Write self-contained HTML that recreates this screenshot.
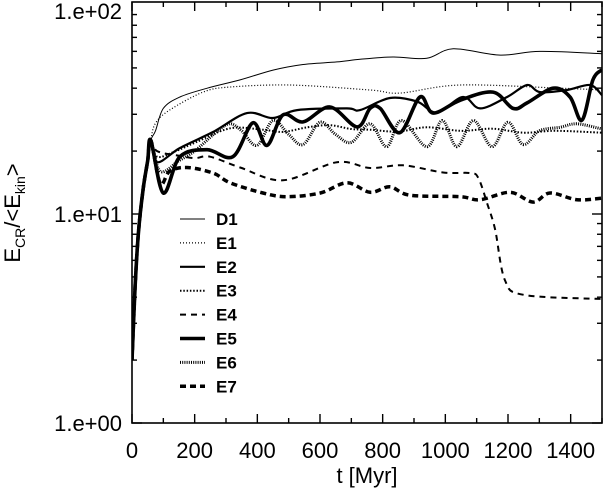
<!DOCTYPE html>
<html><head><meta charset="utf-8">
<style>
html,body{margin:0;padding:0;background:#fff;}
svg{display:block;font-family:"Liberation Sans",sans-serif;}
</style></head>
<body>
<svg id="chart" width="604" height="493" viewBox="0 0 604 493">
  <g id="marks"></g>
  <g id="axes"></g>
  <g id="legend"></g>
  <text x="20" y="213" transform="rotate(-90 20 213)" text-anchor="middle" font-size="22">E<tspan font-size="14" dy="5">CR</tspan><tspan dy="-5">/&lt;E</tspan><tspan font-size="14" dy="5">kin</tspan><tspan dy="-5">&gt;</tspan></text>
  <text x="367" y="483" text-anchor="middle" font-size="22">t [Myr]</text>
</svg>
<script>
const xTicks=[0,200,400,600,800,1000,1200,1400];
const yTicks=[1,10,100];
const yTickLabels=["1.e+00","1.e+01","1.e+02"];
const seriesNames=["D1","E1","E2","E3","E4","E5","E6","E7"];
const tEarly=[0,10,20,35,50,60];
const vEarly=[2,4.5,8,13,18,22.5];
const tD1=[75,100,153,240,345,450,546,654,728,833,941,1025,1175,1302,1500];
const vD1=[25,32,36.3,40,43.8,48.8,51.9,53.4,55,56.4,55.6,61.7,57.6,60,58.5];
const tE1=[75,121,227,313,504,760,855,1047,1366,1500];
const vE1=[27.2,31.5,38.3,40.5,41.4,39.2,37.9,41.4,40,39.2];
const tE2=[80,153,259,367,450,527,686,728,823,910,973,1056,1111,1197,1261,1302,1388,1462,1500];
const vE2=[17.7,20.7,24.7,30.4,28.8,31.4,32,31.4,35.9,34.5,30.6,36.3,32,36.3,41.4,38.3,39.2,41.4,37];
const tE3=[80,140,206,313,418,482,560,632,700,760,850,941,1050,1150,1250,1350,1500];
const vE3=[18.8,20,22.1,25.7,25.3,24.7,26,26.6,25.5,25.3,24.8,26,25,25.6,24.5,25,24.5];
const tE4=[80,150,200,249,345,482,654,760,865,993,1079,1105,1133,1159,1190,1251,1500];
const vE4=[20,19,18.5,18.8,16.7,14.5,17.7,16.6,17.1,15.8,15.7,14.9,11.3,8.4,4.83,4.1,3.92];
const tE5=[100,153,240,322,386,431,482,546,632,718,760,792,855,919,961,1047,1152,1216,1261,1344,1398,1436,1471,1500];
const vE5=[12.6,18.8,20.3,18.8,27.3,21.3,29.8,27.6,32.5,26.1,32,32,24.5,36.3,30.4,35,38.3,32,34,40,36.3,28.1,43.8,49];
const tE6=[90,150,200,260,310,350,399,450,500,546,600,650,700,760,813,860,941,990,1037,1090,1149,1200,1248,1300,1366,1420,1500];
const vE6=[16,18,20,24,27,25,21.3,28,24,21.5,27.5,24,22,27,21,28,21,28,21,28,21,27.5,21.5,25,26,27,25.5];
const tE7=[90,120,175,259,313,418,495,601,686,760,823,887,1047,1111,1207,1280,1334,1420,1500];
const vE7=[14,16,16.7,15.7,14.1,12.6,12.1,12.6,14.1,12.7,13.5,12.3,12.1,11.7,12.7,11.4,12.6,11.7,11.9];

const X0=132,X1=602,Y0=423,DEC=209,TMAX=1500;
function sx(t){return X0+t*(X1-X0)/TMAX;}
function sy(v){return Y0-Math.log10(v)*DEC;}
const NS="http://www.w3.org/2000/svg";
function mk(tag,parent){const e=document.createElementNS(NS,tag);parent.appendChild(e);return e;}
function smoothPath(pts){
  let d='M'+pts[0][0].toFixed(1)+','+pts[0][1].toFixed(1);
  for(let i=0;i<pts.length-1;i++){
    const p0=pts[Math.max(0,i-1)],p1=pts[i],p2=pts[i+1],p3=pts[Math.min(pts.length-1,i+2)];
    const c1x=p1[0]+(p2[0]-p0[0])/6,c1y=p1[1]+(p2[1]-p0[1])/6;
    const c2x=p2[0]-(p3[0]-p1[0])/6,c2y=p2[1]-(p3[1]-p1[1])/6;
    d+='C'+c1x.toFixed(1)+','+c1y.toFixed(1)+' '+c2x.toFixed(1)+','+c2y.toFixed(1)+' '+p2[0].toFixed(1)+','+p2[1].toFixed(1);
  }
  return d;
}

const styles=[
 {w:1,d:""},{w:1.2,d:"1 2"},{w:2.2,d:""},{w:2,d:"1.5 1.8"},
 {w:2,d:"6 5"},{w:3.6,d:""},{w:3,d:"1 1.2"},{w:3.5,d:"6 4"}];
const allT=[tD1,tE1,tE2,tE3,tE4,tE5,tE6,tE7];
const allV=[vD1,vE1,vE2,vE3,vE4,vE5,vE6,vE7];
const marks=document.getElementById('marks');
const defs=mk('defs',document.getElementById('chart'));
const cp=mk('clipPath',defs);cp.setAttribute('id','clip');
const cr=mk('rect',cp);cr.setAttribute('x',X0);cr.setAttribute('y',2);cr.setAttribute('width',X1-X0);cr.setAttribute('height',Y0-2);
marks.setAttribute('clip-path','url(#clip)');
for(let i=0;i<8;i++){
  const ts=tEarly.concat(allT[i]),vs=vEarly.concat(allV[i]);
  const pts=ts.map((t,j)=>[sx(t),sy(vs[j])]);
  const p=mk('path',marks);
  
  
  p.setAttribute('d',smoothPath(pts));p.setAttribute('fill','none');p.setAttribute('stroke','#000');
  p.setAttribute('stroke-width',styles[i].w);p.setAttribute('stroke-linejoin','round');
  if(styles[i].d)p.setAttribute('stroke-dasharray',styles[i].d);
}
const axes=document.getElementById('axes');
const box=mk('rect',axes);


box.setAttribute('x',X0);box.setAttribute('y',2);box.setAttribute('width',X1-X0);box.setAttribute('height',Y0-2);
box.setAttribute('fill','none');box.setAttribute('stroke','#000');box.setAttribute('stroke-width',1.6);
function line(x1,y1,x2,y2){const l=mk('line',axes);l.setAttribute('x1',x1);l.setAttribute('y1',y1);l.setAttribute('x2',x2);l.setAttribute('y2',y2);l.setAttribute('stroke','#000');l.setAttribute('stroke-width',1.4);return l;}
for(let t=0;t<=TMAX;t+=100){
  const L=(t%200===0)?9:5,x=sx(t);
  const a=line(x,Y0,x,Y0-L);
  const b=line(x,2,x,2+L);
}
xTicks.forEach(t=>{
  const tx=mk('text',axes);
  
  
  tx.setAttribute('x',sx(t));tx.setAttribute('y',458);tx.setAttribute('text-anchor','middle');tx.setAttribute('font-size','22');tx.textContent=t;
});
for(let e=0;e<2;e++)for(let m=1;m<=9;m++){
  const v=m*Math.pow(10,e),y=sy(v),L=m===1?10:5;
  const a=line(X0,y,X0+L,y);
  const b=line(X1,y,X1-L,y);
}
yTicks.forEach((v,i)=>{
  const tx=mk('text',axes);
  
  
  tx.setAttribute('x',122);tx.setAttribute('y',Math.max(sy(v)+8,19));tx.setAttribute('text-anchor','end');tx.setAttribute('font-size','22');tx.textContent=yTickLabels[i];
});
const leg=document.getElementById('legend');
seriesNames.forEach((n,i)=>{
  const y=219+i*23.9;
  const g=mk('g',leg);
  
  
  const l=mk('line',g);l.setAttribute('x1',180);l.setAttribute('x2',205);l.setAttribute('y1',y);l.setAttribute('y2',y);
  l.setAttribute('stroke','#000');l.setAttribute('stroke-width',styles[i].w);
  if(styles[i].d)l.setAttribute('stroke-dasharray',styles[i].d);
  const t=mk('text',g);t.setAttribute('x',216);t.setAttribute('y',y+6);t.setAttribute('font-size','17');t.setAttribute('font-weight','bold');t.textContent=n;
});
</script>
</body></html>
